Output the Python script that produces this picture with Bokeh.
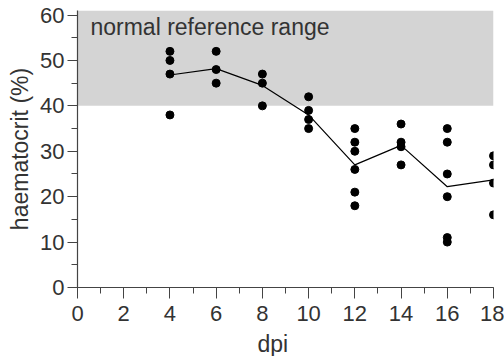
from bokeh.plotting import figure
from bokeh.models import Range1d, BoxAnnotation, Label, FixedTicker, Title
from bokeh.embed import file_html
from bokeh.resources import INLINE

# data
dpi_points = [4, 4, 4, 4,
              6, 6, 6,
              8, 8, 8,
              10, 10, 10, 10,
              12, 12, 12, 12, 12, 12,
              14, 14, 14, 14,
              16, 16, 16, 16, 16, 16,
              18, 18, 18, 18]
hct_points = [52, 50, 47, 38,
              52, 48, 45,
              47, 45, 40,
              42, 39, 37, 35,
              35, 32, 30, 26, 21, 18,
              36, 32, 31, 27,
              35, 32, 25, 20, 11, 10,
              29, 27, 23, 16]
dpi_mean = [4, 6, 8, 10, 12, 14, 16, 18]
hct_mean = [46.8, 48.2, 44.5, 38.0, 27.0, 31.3, 22.2, 23.7]
ref_low, ref_high = 40, 61
x_ticks = [0, 2, 4, 6, 8, 10, 12, 14, 16, 18]
y_ticks = [0, 10, 20, 30, 40, 50, 60]

TXT = "#333333"
FONT = "Liberation Sans"

p = figure(frame_width=416, frame_height=277, output_backend="svg", toolbar_location=None,
           x_range=Range1d(0, 18), y_range=Range1d(0, 61),
           min_border_left=77, min_border_right=11, min_border_top=10, min_border_bottom=60)
p.outline_line_color = None
p.xgrid.visible = False
p.ygrid.visible = False

p.add_layout(BoxAnnotation(bottom=ref_low, top=ref_high, left=0, right=18,
                           fill_color="#d4d4d4", fill_alpha=1.0, line_color=None, level="underlay"))

p.line(dpi_mean, hct_mean, line_color="black", line_width=1.2)
p.scatter(dpi_points, hct_points, size=8, fill_color="black", line_color="black")

p.add_layout(Label(x=0.56, y=57.4, text="normal reference range", text_font=FONT,
                   text_font_size="23px", text_color=TXT, text_baseline="alphabetic"))

for ax in (p.xaxis[0], p.yaxis[0]):
    ax.axis_line_color = "#444444"
    ax.axis_line_width = 1.2
    ax.major_tick_line_color = "#444444"
    ax.minor_tick_line_color = "#444444"
    ax.major_tick_in = 0
    ax.major_tick_out = 10
    ax.minor_tick_in = 0
    ax.minor_tick_out = 6
    ax.major_label_text_font = FONT
    ax.major_label_text_font_size = "22px"
    ax.major_label_text_color = TXT
    ax.major_label_standoff = 3

p.xaxis[0].major_tick_out = 11
p.xaxis[0].major_label_standoff = 7

p.xaxis[0].ticker = FixedTicker(ticks=x_ticks, minor_ticks=list(range(0, 19)))
p.yaxis[0].ticker = FixedTicker(ticks=y_ticks, minor_ticks=list(range(0, 61, 5)))

p.yaxis[0].axis_label = "haematocrit (%)"
p.yaxis[0].axis_label_text_font = FONT
p.yaxis[0].axis_label_text_font_size = "23px"
p.yaxis[0].axis_label_text_font_style = "normal"
p.yaxis[0].axis_label_text_color = TXT
p.yaxis[0].axis_label_standoff = 4

p.add_layout(Title(text="dpi", align="left", offset=180, text_font=FONT,
                   text_font_size="23px", text_font_style="normal", text_color=TXT,
                   standoff=10), "below")

open("out.html", "w").write(file_html(p, INLINE))
